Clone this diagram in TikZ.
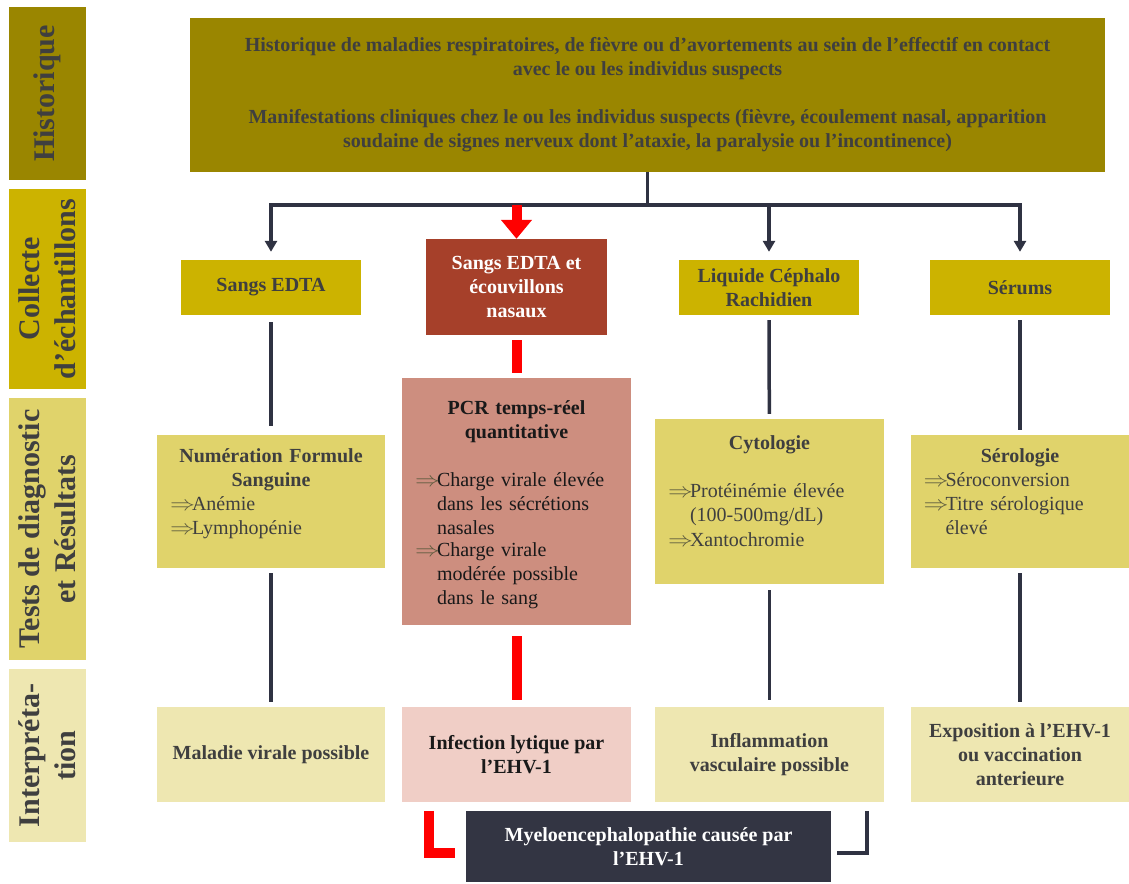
\documentclass[tikz,border=0pt]{standalone}
\usepackage{fontspec}
\setmainfont{Liberation Serif}
\usetikzlibrary{arrows.meta}
\definecolor{histo}{HTML}{9A8600}
\definecolor{collecte}{HTML}{CCB300}
\definecolor{tests}{HTML}{E0D36B}
\definecolor{interp}{HTML}{EEE7B1}
\definecolor{brique}{HTML}{A6402A}
\definecolor{saumon}{HTML}{CD8E7F}
\definecolor{rose}{HTML}{F0CEC6}
\definecolor{nuit}{HTML}{333543}
\definecolor{trait}{HTML}{2F3242}
\definecolor{texte}{HTML}{3F3F3F}
\definecolor{fleche}{HTML}{5C5A3E}
\newcommand\corps{\fontsize{20}{24}\selectfont\bfseries}
\newcommand\titre{\fontsize{30}{36}\selectfont\bfseries}
\newcommand\fl[1]{\par\noindent\mdseries\makebox[22pt][l]{\textcolor{fleche}{\scalebox{1.2}[1]{$\Rightarrow$}}}%
  \parbox[t]{\dimexpr\linewidth-22pt}{\raggedright#1\strut}\par}
\begin{document}
\begin{tikzpicture}[x=1pt,y=-1pt,
  box/.style={rectangle,inner sep=0pt,align=center,text=texte,font=\corps},
  side/.style={box,rotate=90,minimum width=#1,minimum height=77,font=\titre},
  test/.style={box,fill=tests,inner xsep=13pt,align=left},
  link/.style={draw=trait,line width=3.5pt},
  redlink/.style={draw=red,line width=10pt},
  tip/.style={-{Triangle[width=12pt,length=11pt]},shorten >=8pt}]
\useasboundingbox (0,0) rectangle (1129,883);

\node[side=173,fill=histo] (s1) at (47.5,93.5) {Historique};
\node[side=200,fill=collecte] (s2) at (47.5,289) {Collecte\\d’échantillons};
\node[side=262,fill=tests] (s3) at (47.5,529) {Tests de diagnostic\\et Résultats};
\node[side=173,fill=interp] (s4) at (47.5,755.5) {Interpréta-\\tion};

\node[box,fill=histo,minimum width=915,minimum height=153] (histo) at (647.5,95)
  {Historique de maladies respiratoires, de fièvre ou d’avortements au sein de l’effectif en contact\\avec le ou les individus suspects\\[24pt]
   Manifestations cliniques chez le ou les individus suspects (fièvre, écoulement nasal, apparition\\soudaine de signes nerveux dont l’ataxie, la paralysie ou l’incontinence)};

\node[box,fill=collecte,minimum width=180,minimum height=55] (sang) at (271,287.5) {Sangs EDTA};
\node[box,fill=brique,text=white,minimum width=181,minimum height=96] (rouge) at (516.5,287) {Sangs EDTA et\\écouvillons\\nasaux};
\node[box,fill=collecte,minimum width=180,minimum height=55] (lcr) at (769,287.5) {Liquide Céphalo\\Rachidien};
\node[box,fill=collecte,minimum width=180,minimum height=55] (serum) at (1020,287.5) {Sérums};

\node[test,text width=202,minimum height=133] (nfs) at (271,501.5)
  {{\centering Numération Formule\\Sanguine\par}\fl{Anémie}\fl{Lymphopénie}\vspace{12pt}};
\node[test,fill=saumon,text=black!90,text width=203,minimum height=247] (pcr) at (516.5,501.5)
  {{\centering PCR temps-réel\\quantitative\par}\vspace{24pt}\fl{Charge virale élevée\\dans les sécrétions\\nasales}\fl{Charge virale\\modérée possible\\dans le sang}\vspace{-10pt}};
\node[test,text width=203,minimum height=165] (cyto) at (769.5,501.5)
  {{\centering Cytologie\par}\vspace{24pt}\fl{Protéinémie élevée\\(100-500mg/dL)}\fl{Xantochromie}\vspace{14pt}};
\node[test,text width=193,minimum height=133] (sero) at (1020,501.5)
  {{\centering Sérologie\par}\fl{Séroconversion}\fl{Titre sérologique\\élevé}\vspace{12pt}};

\node[box,fill=interp,minimum width=228,minimum height=95] (mal) at (271,754.5) {Maladie virale possible};
\node[box,fill=rose,text=black!90,minimum width=229,minimum height=95] (inf) at (516.5,754.5) {Infection lytique par\\l’EHV-1};
\node[box,fill=interp,minimum width=229,minimum height=95] (infl) at (769.5,754.5) {Inflammation\\vasculaire possible};
\node[box,fill=interp,minimum width=219,minimum height=95] (expo) at (1020,754.5) {Exposition à l’EHV-1\\ou vaccination\\anterieure};

\node[box,fill=nuit,text=white,minimum width=365,minimum height=71] (myelo) at (648.5,846.5) {Myeloencephalopathie causée par\\l’EHV-1};

\coordinate (hub) at (647.5,205);
\draw[link] (histo) -- (hub);
\draw[link,tip] (hub) -| (sang);
\draw[link,tip] (hub) -| (lcr);
\draw[link,tip] (hub) -| (serum);
\draw[redlink,-{Triangle[width=30pt,length=19pt]}] (hub -| rouge) -- (rouge);

\draw[link,shorten <=7pt,shorten >=9pt] (sang) -- (nfs);
\draw[redlink,shorten <=5pt,shorten >=5pt] (rouge) -- (pcr);
\draw[link,shorten <=5pt,shorten >=5pt] (lcr) -- (cyto);
\draw[link,shorten <=5pt,shorten >=5pt] (serum) -- (sero);

\draw[link,shorten <=5pt,shorten >=5pt] (nfs) -- (mal);
\draw[redlink,shorten <=11pt,shorten >=7pt] (pcr) -- (inf);
\draw[link,shorten <=6pt,shorten >=7pt] (cyto) -- (infl);
\draw[link,shorten <=5pt,shorten >=5pt] (sero) -- (expo);

\draw[redlink] ([xshift=-37pt]myelo.north west) |- ([xshift=-11pt,yshift=-6.5pt]myelo.west);
\draw[link] ([xshift=36pt]myelo.north east) |- ([xshift=6pt,yshift=-6.5pt]myelo.east);
\end{tikzpicture}
\end{document}
